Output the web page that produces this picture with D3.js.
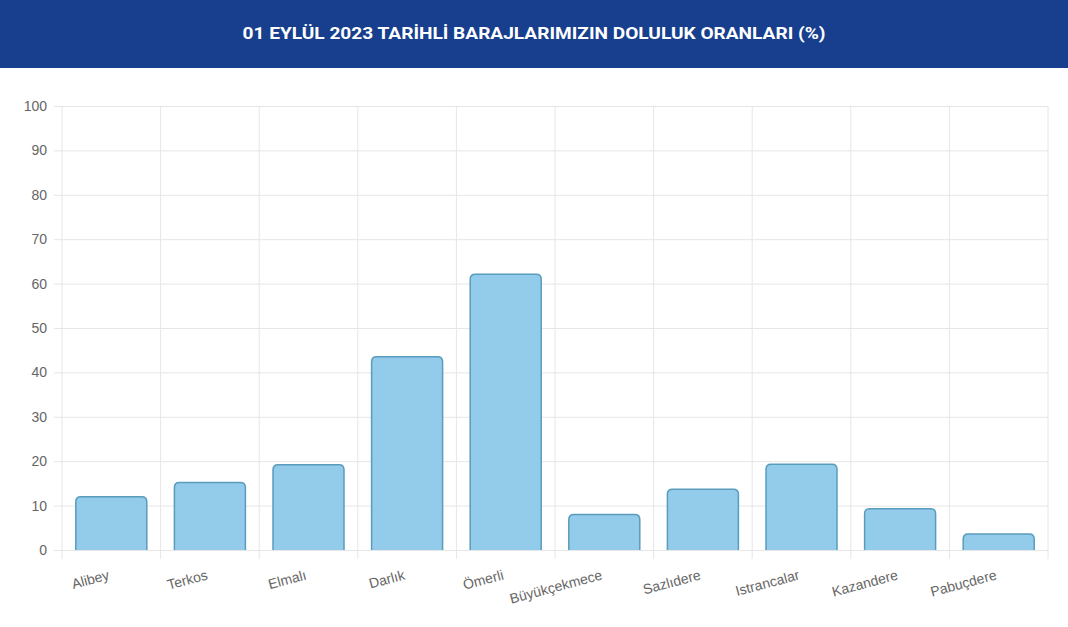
<!DOCTYPE html>
<html>
<head>
<meta charset="utf-8">
<script src="https://cdn.jsdelivr.net/npm/d3@7"></script>
<style>
  body { margin: 0; background: #fff; }
  svg { display: block; }
</style>
</head>
<body>
<div id="chart"></div>
<script>
// data
var dams = ["Alibey", "Terkos", "Elmalı", "Darlık", "Ömerli", "Büyükçekmece", "Sazlıdere", "Istrancalar", "Kazandere", "Pabuçdere"];
var fillRates = [12.0, 15.2, 19.2, 43.5, 62.1, 8.0, 13.7, 19.3, 9.3, 3.6];
var yTicks = [0, 10, 20, 30, 40, 50, 60, 70, 80, 90, 100];
var title = "01 EYLÜL 2023 TARİHLİ BARAJLARIMIZIN DOLULUK ORANLARI (%)";

var W = 1068, H = 627;
var margin = {top: 106, right: 20, bottom: 77, left: 62},
    width = W - margin.left - margin.right,
    height = H - margin.top - margin.bottom;

var svg = d3.select("#chart")
  .append("svg")
    .attr("width", W)
    .attr("height", H);

// title banner
svg.append("rect")
  .attr("x", 0).attr("y", 0)
  .attr("width", W).attr("height", 68)
  .attr("fill", "#173f8d");
svg.append("text")
  .attr("x", W / 2)
  .attr("y", 39)
  .attr("text-anchor", "middle")
  .attr("fill", "#fff")
  .attr("font-family", "Roboto, sans-serif")
  .attr("font-weight", "bold")
  .attr("font-size", 17)
  .attr("textLength", 583)
  .attr("lengthAdjust", "spacingAndGlyphs")
  .text(title);

var g = svg.append("g")
  .attr("transform", "translate(" + margin.left + "," + margin.top + ")");

var x = d3.scaleBand()
  .domain(dams)
  .range([0, width])
  .paddingInner(0)
  .paddingOuter(0);

var y = d3.scaleLinear()
  .domain([0, 100])
  .range([height, 0]);

// horizontal grid + y labels
var yAxis = g.append("g")
  .call(d3.axisLeft(y).tickValues(yTicks).tickSize(-width).tickPadding(15));
yAxis.select(".domain").remove();
yAxis.selectAll(".tick line")
  .attr("x1", -8)
  .attr("stroke", "#e6e6e6");
yAxis.selectAll(".tick text")
  .attr("fill", "#666")
  .attr("font-family", "Arial, 'Liberation Sans', sans-serif")
  .attr("font-size", 14);

// vertical grid at category edges
var edges = dams.map(function(d) { return x(d); }).concat([width]);
g.selectAll(".vgrid")
  .data(edges)
  .enter()
  .append("line")
    .attr("class", "vgrid")
    .attr("x1", function(d) { return d; })
    .attr("x2", function(d) { return d; })
    .attr("y1", 0)
    .attr("y2", height + 9)
    .attr("stroke", "#e6e6e6");

// bars
var barW = x.bandwidth() * 0.72;
function barPath(d, i) {
  var cx = x(dams[i]) + x.bandwidth() / 2;
  var x0 = cx - barW / 2, x1 = cx + barW / 2;
  var y0 = y(0), y1 = y(d);
  var r = Math.min(5, (y0 - y1) / 2);
  return "M" + x0 + "," + y0 +
         "V" + (y1 + r) +
         "Q" + x0 + "," + y1 + " " + (x0 + r) + "," + y1 +
         "H" + (x1 - r) +
         "Q" + x1 + "," + y1 + " " + x1 + "," + (y1 + r) +
         "V" + y0;
}
g.selectAll(".bar")
  .data(fillRates)
  .enter()
  .append("path")
    .attr("class", "bar")
    .attr("d", barPath)
    .attr("fill", "#93cbea")
    .attr("stroke", "#5a9cbc")
    .attr("stroke-width", 1.5);

// x labels, rotated like chart.js
g.selectAll(".xlabel")
  .data(dams)
  .enter()
  .append("text")
    .attr("class", "xlabel")
    .attr("transform", function(d) {
      return "translate(" + (x(d) + x.bandwidth() / 2 - 4) + "," + (height + 19) + ") rotate(-15)";
    })
    .attr("text-anchor", "end")
    .attr("dy", "0.75em")
    .attr("fill", "#666")
    .attr("font-family", "Arial, 'Liberation Sans', sans-serif")
    .attr("font-size", 14)
    .text(function(d) { return d; });
</script>
</body>
</html>
